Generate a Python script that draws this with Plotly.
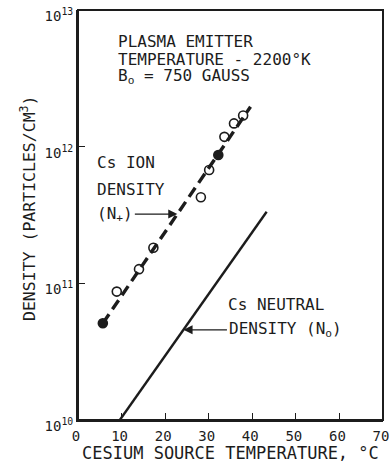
import numpy as np
import plotly.graph_objects as go

# ---- data ----
ion_temp = [5.7, 8.9, 14.0, 17.3, 28.2, 30.1, 32.2, 33.6, 35.8, 37.9]
ion_density = [5.1e10, 8.7e10, 1.27e11, 1.82e11, 4.26e11, 6.75e11, 8.7e11, 1.18e12, 1.48e12, 1.69e12]

ion_fit_temp = [5.7, 39.6]
ion_fit_density = [5.1e10, 1.96e12]

neutral_temp = [9.6, 43.3]
neutral_density = [1.0e10, 3.34e11]

x_tick_vals = [0, 10, 20, 30, 40, 50, 60, 70]
y_tick_vals = [1e10, 1e11, 1e12, 1e13]
y_tick_text = ["10<sup>10</sup>", "10<sup>11</sup>", "10<sup>12</sup>", "10<sup>13</sup>"]

INK = "#1c1c1c"
FONT = "DejaVu Sans Mono"


def on_line(t, xs, ys):
    return float(np.interp(t, xs, np.log10(ys)))


fig = go.Figure()

fig.add_trace(go.Scatter(
    x=neutral_temp, y=neutral_density, mode="lines",
    line=dict(color=INK, width=2.4), showlegend=False, hoverinfo="skip"))

fig.add_trace(go.Scatter(
    x=ion_fit_temp, y=ion_fit_density, mode="lines",
    line=dict(color=INK, width=3.4, dash="11px,6px"), showlegend=False, hoverinfo="skip"))

symbols = ["circle" if i in (0, 6) else "circle-open" for i in range(len(ion_temp))]
fig.add_trace(go.Scatter(
    x=ion_temp, y=ion_density, mode="markers",
    marker=dict(symbol=symbols, size=9, color=INK, line=dict(color=INK, width=1.6)),
    showlegend=False))

head_font = dict(family=FONT, size=16, color=INK)
ann_font = dict(family=FONT, size=16, color=INK)

# header text
for txt, yv in zip(["PLASMA EMITTER", "TEMPERATURE - 2200°K", "B<sub>o</sub> = 750 GAUSS"],
                   [12.773, 12.641, 12.517]):
    fig.add_annotation(x=8.7, y=yv, xref="x", yref="y", text=txt,
                       showarrow=False, xanchor="left", yanchor="middle", font=head_font)

# ion labels
fig.add_annotation(x=3.9, y=11.881, xref="x", yref="y", text="Cs ION",
                   showarrow=False, xanchor="left", yanchor="middle", font=ann_font)
fig.add_annotation(x=3.9, y=11.690, xref="x", yref="y", text="DENSITY",
                   showarrow=False, xanchor="left", yanchor="middle", font=ann_font)
ion_tip_t = 22.8
ion_tip = on_line(ion_tip_t, ion_fit_temp, ion_fit_density)
fig.add_annotation(x=3.9, y=ion_tip, xref="x", yref="y", text="(N<sub>+</sub>)",
                   showarrow=False, xanchor="left", yanchor="middle", font=ann_font)
fig.add_annotation(x=ion_tip_t, y=ion_tip, xref="x", yref="y", text="",
                   showarrow=True, ax=-44, ay=0, arrowhead=2, arrowsize=1.4,
                   arrowwidth=1.3, arrowcolor=INK)

# neutral labels
fig.add_annotation(x=34.0, y=10.842, xref="x", yref="y", text="Cs NEUTRAL",
                   showarrow=False, xanchor="left", yanchor="middle", font=ann_font)
neu_tip_t = 24.2
neu_tip = on_line(neu_tip_t, neutral_temp, neutral_density)
fig.add_annotation(x=34.2, y=neu_tip, xref="x", yref="y", text="DENSITY (N<sub>o</sub>)",
                   showarrow=False, xanchor="left", yanchor="middle", font=ann_font)
fig.add_annotation(x=neu_tip_t, y=neu_tip, xref="x", yref="y", text="",
                   showarrow=True, ax=45, ay=0, arrowhead=2, arrowsize=1.4,
                   arrowwidth=1.3, arrowcolor=INK)

# axis titles placed explicitly
fig.add_annotation(x=0.5, y=-0.08, xref="paper", yref="paper",
                   text="CESIUM SOURCE TEMPERATURE, °C", showarrow=False,
                   xanchor="center", yanchor="middle",
                   font=dict(family=FONT, size=17, color=INK))
fig.add_annotation(x=-0.164, y=0.517, xref="paper", yref="paper",
                   text="DENSITY (PARTICLES/CM<sup>3</sup>)", showarrow=False,
                   textangle=-90, xanchor="center", yanchor="middle",
                   font=dict(family=FONT, size=16.5, color=INK))

# plot frame
fig.add_shape(type="rect", xref="paper", yref="paper", x0=0, x1=1, y0=0, y1=1,
              line=dict(color=INK, width=2), layer="above")

tick_style = dict(ticks="inside", ticklen=7, tickwidth=1.2, tickcolor=INK,
                  showgrid=False, zeroline=False, automargin=False)

fig.update_layout(
    width=390, height=464,
    margin=dict(l=78, r=7, t=10, b=44, autoexpand=False),
    paper_bgcolor="white", plot_bgcolor="white",
    font=dict(family=FONT, size=14, color=INK),
    showlegend=False,
    xaxis=dict(range=[0, 70], tickvals=x_tick_vals, showline=True, linecolor=INK,
               linewidth=2, ticklabelstandoff=2, ticklabelshift=-2,
               ticklabeloverflow="allow",
               tickfont=dict(family=FONT, size=14, color=INK), **tick_style),
    yaxis=dict(type="log", range=[10, 13], tickvals=y_tick_vals, ticktext=y_tick_text,
               showline=True, linecolor=INK, linewidth=2, ticklabelshift=6,
               ticklabeloverflow="allow",
               tickfont=dict(family=FONT, size=14, color=INK), **tick_style),
    xaxis2=dict(overlaying="x", anchor="y", side="top", range=[0, 70],
                tickvals=x_tick_vals, showticklabels=False, showline=False, **tick_style),
    yaxis2=dict(overlaying="y", anchor="x", side="right", type="log", range=[10, 13],
                tickvals=y_tick_vals, showticklabels=False, showline=False, **tick_style),
)

# remove the browser's default page margin so the 390x464 figure fills the window
fig.write_html(
    "out.html",
    config={"displayModeBar": False},
    post_script="document.body.style.margin='0';document.body.style.overflow='hidden';",
)
